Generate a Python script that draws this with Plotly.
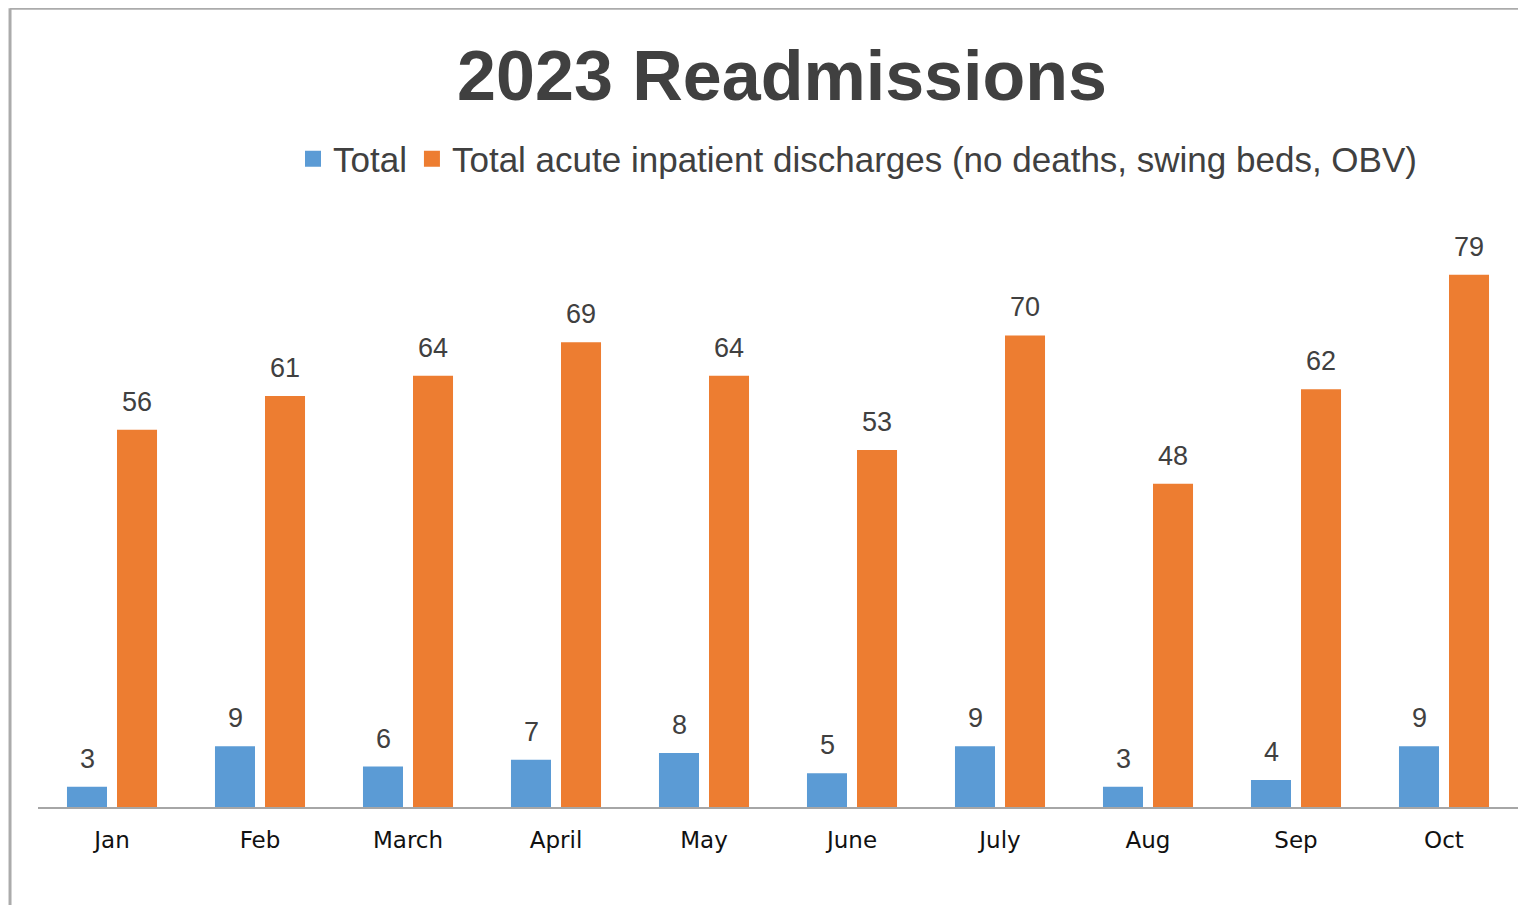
import plotly.graph_objects as go

months = ["Jan", "Feb", "March", "April", "May", "June", "July", "Aug", "Sep", "Oct"]
readmissions = [3, 9, 6, 7, 8, 5, 9, 3, 4, 9]
discharges = [56, 61, 64, 69, 64, 53, 70, 48, 62, 79]

series_names = ["Total", "Total acute inpatient discharges (no deaths, swing beds, OBV)"]
colors = ["#5B9BD5", "#ED7D31"]
TEXT = "#404040"

fig = go.Figure()
for name, vals, col in zip(series_names, [readmissions, discharges], colors):
    fig.add_trace(go.Bar(x=months, y=vals, name=name, marker_color=col,
                         marker_line_width=0, showlegend=False))
    # legend proxy with larger square symbol
    fig.add_trace(go.Scatter(x=[months[0]], y=[None], mode="markers", name=name,
                             marker=dict(symbol="square", size=16, color=col),
                             showlegend=True, hoverinfo="skip"))

# data labels above bars
for vals, shift in [(readmissions, -25), (discharges, 25)]:
    for m, v in zip(months, vals):
        fig.add_annotation(x=m, y=v, text=str(v), showarrow=False,
                           xshift=shift, yshift=11, yanchor="bottom",
                           font=dict(family="Liberation Sans", size=27, color=TEXT))

# frame lines (left and top border of the chart area)
fig.add_shape(type="line", xref="paper", yref="paper", x0=-0.0189, x1=-0.0189,
              y0=-0.2, y1=1.316, line=dict(color="#ababab", width=3))
fig.add_shape(type="line", xref="paper", yref="paper", x0=-0.0189, x1=1.1,
              y0=1.316, y1=1.316, line=dict(color="#ababab", width=3))

fig.update_layout(
    width=1526, height=905,
    paper_bgcolor="white", plot_bgcolor="white",
    margin=dict(l=30, r=16, t=192, b=106, autoexpand=False),
    barmode="group", bargap=0.324, bargroupgap=0.2,
    title=dict(text="<b>2023 Readmissions</b>", x=774 / 1526, xanchor="center",
               y=1 - 67 / 905, yanchor="middle",
               font=dict(family="Liberation Sans", size=70, color=TEXT)),
    legend=dict(orientation="h", x=(296 - 20 - 30 + 9) / 1480, xanchor="left",
                y=(807 - 159) / 607, yanchor="middle",
                font=dict(family="Liberation Sans", size=35, color=TEXT),
                itemsizing="trace", itemwidth=30, tracegroupgap=0,
                bgcolor="rgba(0,0,0,0)"),
    xaxis=dict(showline=True, linecolor="#a6a6a6", linewidth=1.5, ticks="",
               showgrid=False, automargin=False, tickangle=0,
               range=[-0.5, len(months) - 0.5],
               tickfont=dict(family="DejaVu Sans", size=23, color="#111111"),
               ticklabelstandoff=12),
    yaxis=dict(range=[0, 90.1], visible=False, showgrid=False),
)

fig.write_html("out.html")
